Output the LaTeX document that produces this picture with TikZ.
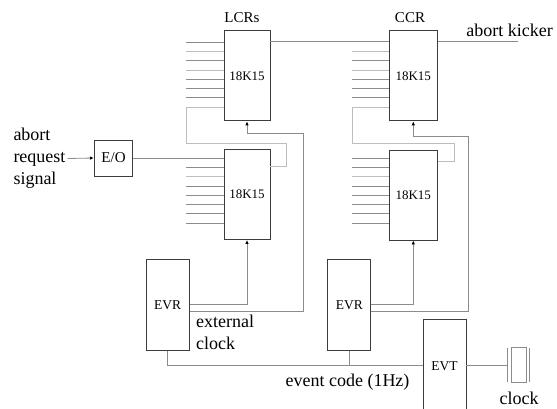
\documentclass[tikz,border=0pt]{standalone}
\usepackage{fontspec}
\setmainfont{Liberation Serif}
\usetikzlibrary{arrows.meta,positioning}
\definecolor{boxline}{HTML}{3C3C3C}
\definecolor{wiregray}{HTML}{8C8C8C}
\definecolor{palegray}{HTML}{BDBDBD}

\begin{document}
\begin{tikzpicture}[x=1pt,y=-1pt,
  chip/.style={draw=boxline,line width=0.9pt,minimum width=46pt,minimum height=90pt,inner sep=0pt,font=\fontsize{13}{15}\selectfont},
  rcv/.style={draw=boxline,line width=0.9pt,minimum width=43pt,minimum height=90.7pt,inner sep=0pt,font=\fontsize{13.5}{15}\selectfont},
  wire/.style={draw=wiregray,line width=0.8pt},
  pale/.style={draw=palegray,line width=0.8pt},
  clk/.style={wire,-{Latex[length=4pt,width=3.5pt,color=black]}},
  lbl/.style={inner sep=2pt,font=\fontsize{18}{22}\selectfont}
  ]
  \useasboundingbox (0,0) rectangle (557,408);
  % logic chips
  \node[chip] (lcrA) at (247,75.9) {18K15};
  \node[chip] (lcrB) at (247,194.5) {18K15};
  \node[chip,minimum width=48.7pt] (ccrA) at (413.3,75.9) {18K15};
  \node[chip,minimum width=48.7pt] (ccrB) at (413.3,195) {18K15};
  \node[lbl,font=\fontsize{15}{17}\selectfont,above=5.7pt of lcrA,xshift=-5pt] (lcrLbl) {LCRs};
  \node[lbl,font=\fontsize{15}{17}\selectfont,above=5.7pt of ccrA,xshift=-3.3pt] (ccrLbl) {CCR};
  % event system
  \node[rcv] (evrL) at (167.7,304.7) {EVR};
  \node[rcv] (evrR) at (349.3,304.7) {EVR};
  \node[rcv,minimum height=92.7pt] (evt) at (444.5,365.7) {EVT};
  \node[draw=boxline,line width=0.9pt,minimum width=38.4pt,minimum height=36pt,inner sep=0pt,font=\fontsize{15}{17}\selectfont] (eo) at (113.5,158) {E/O};
  \node[draw=wiregray,line width=0.6pt,minimum width=14.3pt,minimum height=35pt,inner sep=0pt] (xtal) at (518.9,365.2) {};
  \draw[wiregray,line width=0.5pt] ([shift={(-4.4,1)}]xtal.north west) -- ([shift={(-4.4,-1)}]xtal.south west);
  \draw[wiregray,line width=0.5pt] ([shift={(3.3,1)}]xtal.north east) -- ([shift={(3.3,-1)}]xtal.south east);
  \coordinate (plateL) at ([xshift=-4.4pt]xtal.west);
  % labels
  \node[lbl,align=left,anchor=west] (req) at (11.3,158.5) {abort\\request\\signal};
  \node[lbl,align=left,anchor=west] (extclk) at (194,332) {external\\clock};
  \node[lbl] (evcode) at (347.5,382) {event code (1Hz)};
  \node[lbl] (clklbl) at (519,398) {clock};
  \node[lbl] (kickLbl) at (509.5,30) {abort kicker};
  \coordinate (kick) at (518,41.7);
  % input stubs
  \foreach \i/\s in {0/wire,1/pale,2/wire,3/pale,4/wire,5/wire,6/wire} {
    \coordinate (a\i) at (186,{42+9.3*\i});
    \draw[\s] (a\i) -- (a\i -| lcrA.west);
  }
  \foreach \i/\s in {1/wire,2/pale,3/wire,4/wire,5/wire,6/wire,7/wire} {
    \coordinate (b\i) at (186,{158+9.3*\i});
    \draw[\s] (b\i) -- (b\i -| lcrB.west);
  }
  \foreach \i/\s in {1/pale,2/wire,3/pale,4/wire,5/wire,6/wire} {
    \coordinate (c\i) at (352,{42+9.3*\i});
    \draw[\s] (c\i) -- (c\i -| ccrA.west);
  }
  \foreach \i/\s in {0/wire,1/wire,2/pale,3/wire,4/wire,5/wire,6/wire,7/wire} {
    \coordinate (d\i) at (352,{158+9.3*\i});
    \draw[\s] (d\i) -- (d\i -| ccrB.west);
  }
  % signal paths
  \draw[clk] (req.east) -- (eo.west);
  \draw[wire] (eo.east) -- (lcrB.west |- eo.east);
  \draw[wire] (lcrA.east |- 0,41.7) -- (ccrA.west |- 0,41.7);
  \draw[wire] (ccrA.east |- kick) -- (kick);
  \draw[pale] (lcrB.east |- 0,166.7) -| (286.7,143) -| (186,107.1) -- (lcrA.west |- 0,107.1);
  \draw[pale] (ccrB.east |- 0,161) -| (454,143) -| (352,107.1) -- (ccrA.west |- 0,107.1);
  % clocks
  \draw[clk] (evrL.east) -| (lcrB.south);
  \draw[clk] (evrL.east |- 0,311) -| (303.3,133.3) -| (lcrA.south);
  \draw[clk] (evrR.east) -| (ccrB.south);
  \draw[clk] (evrR.east |- 0,311.7) -| (468,136) -| (ccrA.south);
  % event code bus
  \draw[wire] (evrL.south) |- (evt.west);
  \draw[wire] (evrR.south) -- (evrR.south |- evt.west);
  \draw[wire] (evt.east) -- (evt.east -| plateL);
\end{tikzpicture}
\end{document}
